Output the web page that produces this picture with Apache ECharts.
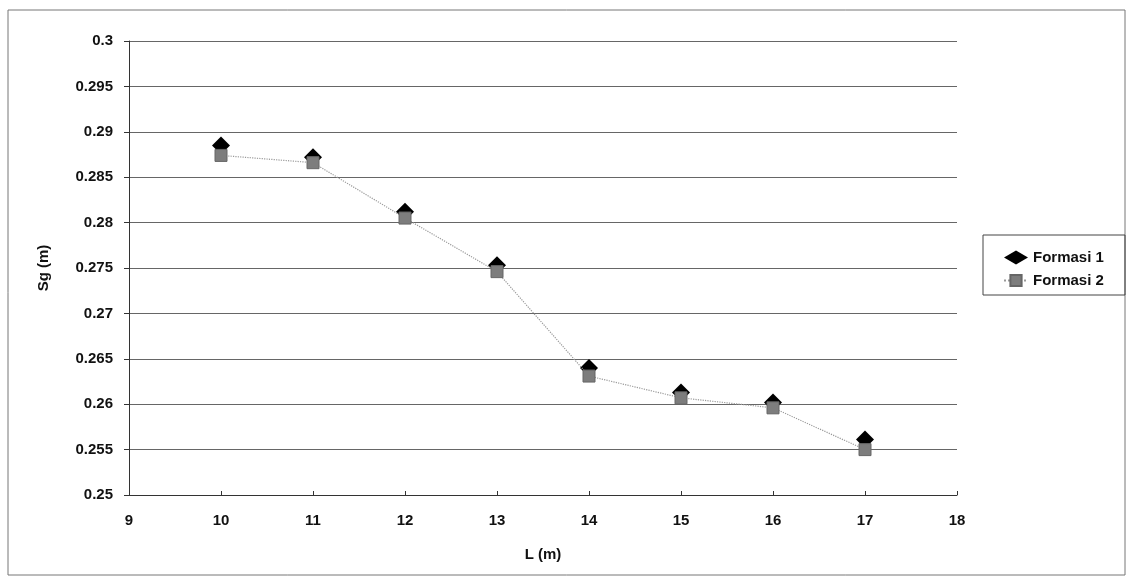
<!DOCTYPE html>
<html>
<head>
<meta charset="utf-8">
<script src="https://cdn.jsdelivr.net/npm/echarts@6/dist/echarts.min.js"></script>
<style>
html, body { margin: 0; padding: 0; background: #fff; }
#chart { width: 1132px; height: 588px; }
</style>
</head>
<body>
<div id="chart"></div>
<script>
var lengths = [10, 11, 12, 13, 14, 15, 16, 17];
var formasi1 = [0.2885, 0.2872, 0.2812, 0.2753, 0.2640, 0.2613, 0.2602, 0.2561];
var formasi2 = [0.2874, 0.2866, 0.2805, 0.2746, 0.2631, 0.2607, 0.2596, 0.2550];

function pairs(xs, ys) {
    return xs.map(function (x, i) { return [x, ys[i]]; });
}

var dom = document.getElementById("chart");
var myChart = echarts.init(dom);
var font = 'Liberation Sans, Arial, sans-serif';
var txt = { fontSize: 15, fontWeight: 'bold', color: '#111', fontFamily: font };

var option = {
    backgroundColor: '#fff',
    animation: false,
    textStyle: { fontFamily: font },
    graphic: [{
        type: 'rect',
        shape: { x: 8, y: 10, width: 1117, height: 565 },
        style: { fill: 'none', stroke: '#777', lineWidth: 1 }
    }, {
        type: 'rect',
        shape: { x: 983, y: 235, width: 142, height: 60 },
        style: { fill: 'none', stroke: '#444', lineWidth: 1 }
    }],
    grid: { left: 129, right: 175, top: 41, bottom: 93 },
    legend: {
        orient: 'vertical',
        left: 998,
        top: 245,
        itemGap: 8,
        itemWidth: 24,
        itemHeight: 14,
        textStyle: txt,
        data: ['Formasi 1', 'Formasi 2']
    },
    xAxis: {
        type: 'value',
        min: 9,
        max: 18,
        interval: 1,
        name: 'L (m)',
        nameLocation: 'middle',
        nameGap: 52,
        nameTextStyle: txt,
        axisLine: { lineStyle: { color: '#333', width: 1 } },
        axisTick: { inside: true, length: 4, lineStyle: { color: '#333' } },
        axisLabel: Object.assign({ margin: 18 }, txt),
        splitLine: { show: false }
    },
    yAxis: {
        type: 'value',
        min: 0.25,
        max: 0.3,
        interval: 0.005,
        name: 'Sg (m)',
        nameLocation: 'middle',
        nameGap: 78,
        nameTextStyle: txt,
        axisLine: { show: true, lineStyle: { color: '#333', width: 1 } },
        axisTick: { show: true, length: 5, lineStyle: { color: '#333' } },
        axisLabel: Object.assign({ margin: 16 }, txt),
        splitLine: { lineStyle: { color: '#666', width: 1 } }
    },
    series: [
        {
            name: 'Formasi 1',
            type: 'scatter',
            symbol: 'diamond',
            symbolSize: 18,
            itemStyle: { color: '#000', opacity: 1 },
            data: pairs(lengths, formasi1),
            z: 3
        },
        {
            name: 'Formasi 2',
            type: 'line',
            symbol: 'rect',
            symbolSize: 12,
            showSymbol: true,
            lineStyle: { color: '#999', width: 1.2, type: 'dotted' },
            itemStyle: { color: '#7d7d7d', borderColor: '#666', borderWidth: 1, opacity: 1 },
            data: pairs(lengths, formasi2),
            z: 4
        }
    ]
};

myChart.setOption(option, true);
</script>
</body>
</html>
